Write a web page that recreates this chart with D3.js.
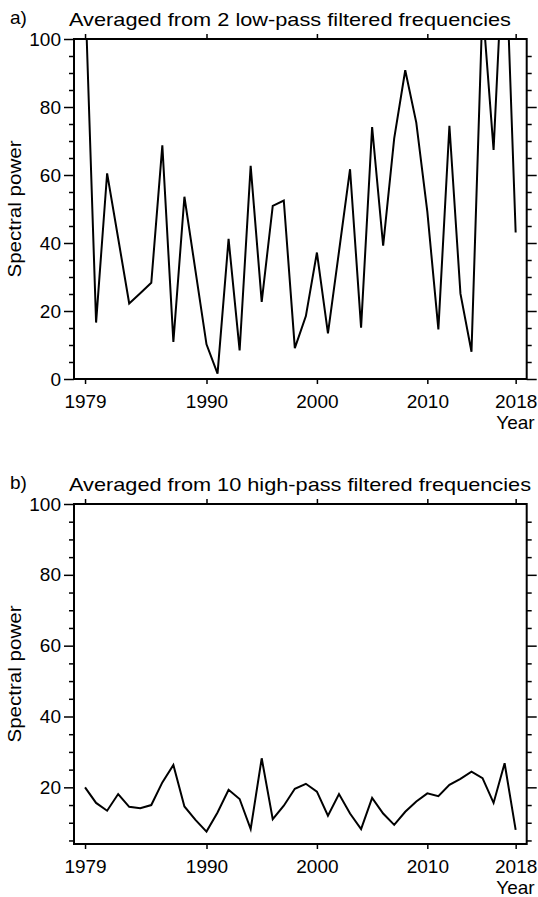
<!DOCTYPE html>
<head>
<title>Spectral power</title>
<meta charset="utf-8">
<style>
body { margin: 0; background: #fff; }
text { font-family: "Liberation Sans", Arial, sans-serif; fill: #000; }
.axis text { font-size: 19px; }
.axis line { stroke: #000; stroke-width: 1.5px; }
.axis path { display: none; }
.frame { fill: none; stroke: #000; stroke-width: 2px; }
.line { fill: none; stroke: #000; stroke-width: 2px; stroke-linejoin: miter; }
</style>
</head>
<body>
<svg width="538" height="897"></svg>
<script src="https://d3js.org/d3.v7.min.js"></script>
<script>
// years on the x axis
let years = d3.range(1979, 2019);
let yearTicks = [1979, 1990, 2000, 2010, 2018];

// a) averaged from 2 low-pass filtered frequencies
let lowPass = [115, 16.6, 60.5, 41.4, 22.2, 25.2, 28.3, 68.7, 10.9, 53.6,
               31.9, 10.2, 1.6, 41.2, 8.4, 62.7, 22.7, 50.9, 52.5, 9.1,
               18.5, 37.2, 13.4, 37.5, 61.7, 15.1, 74.1, 39.2, 70.8, 90.8,
               75.4, 49.2, 14.6, 74.5, 25.1, 8.0, 110, 67.4, 135, 43.1];

// b) averaged from 10 high-pass filtered frequencies
let highPass = [20.0, 15.6, 13.4, 18.1, 14.5, 14.1, 15.0, 21.4, 26.3, 14.6,
                10.8, 7.5, 12.9, 19.3, 16.7, 8.2, 28.2, 11.0, 14.8, 19.6,
                21.0, 18.8, 12.0, 18.1, 12.6, 8.2, 17.0, 12.6, 9.4, 13.1,
                16.0, 18.3, 17.5, 20.7, 22.4, 24.4, 22.6, 15.6, 26.8, 8.0];

let panels = [
  {tag: "a)", title: "Averaged from 2 low-pass filtered frequencies", titleLen: 442,
   values: lowPass, top: 39, yMin: 0, yTicks: [0, 20, 40, 60, 80, 100]},
  {tag: "b)", title: "Averaged from 10 high-pass filtered frequencies", titleLen: 462,
   values: highPass, top: 504, yMin: 4, yTicks: [20, 40, 60, 80, 100]}
];

let svg = d3.select("svg"),
    left = 74,
    width = 452.7,
    height = 340;

let x = d3.scaleLinear().domain([1978, 2019]).range([0, width]);

panels.forEach(function(p, i) {
  let g = svg.append("g").attr("transform", "translate(" + left + "," + p.top + ")");
  let y = d3.scaleLinear().domain([p.yMin, 100]).range([height, 0]);
  let minor = d3.range(5, 100, 5).filter(v => v >= p.yMin && v % 20 != 0);

  g.append("defs").append("clipPath").attr("id", "clip" + i)
    .append("rect").attr("width", width).attr("height", height);

  // left axis with labels, minor ticks
  g.append("g").attr("class", "axis")
    .call(d3.axisLeft(y).tickValues(p.yTicks).tickSize(10).tickPadding(3));
  g.append("g").attr("class", "axis")
    .call(d3.axisLeft(y).tickValues(minor).tickSize(5).tickFormat(""));
  // right axis, no labels
  g.append("g").attr("class", "axis").attr("transform", "translate(" + width + ",0)")
    .call(d3.axisRight(y).tickValues(p.yTicks.filter(v => v < 100)).tickSize(10).tickFormat(""));
  g.append("g").attr("class", "axis").attr("transform", "translate(" + width + ",0)")
    .call(d3.axisRight(y).tickValues(minor).tickSize(5).tickFormat(""));
  // bottom and top axes
  g.append("g").attr("class", "axis").attr("transform", "translate(0," + height + ")")
    .call(d3.axisBottom(x).tickValues(yearTicks).tickSize(5).tickPadding(11).tickFormat(d3.format("d")));
  g.append("g").attr("class", "axis")
    .call(d3.axisTop(x).tickValues(yearTicks).tickSize(5).tickFormat(""));

  g.append("g").attr("clip-path", "url(#clip" + i + ")")
    .append("path")
    .datum(p.values)
    .attr("class", "line")
    .attr("d", d3.line().x((d, j) => x(years[j])).y(d => y(d)));

  g.append("rect").attr("class", "frame").attr("width", width).attr("height", height);

  g.append("text").attr("x", -64).attr("y", -15).style("font-size", "19px").text(p.tag);
  g.append("text").attr("x", -5).attr("y", -13).style("font-size", "19px")
    .attr("textLength", p.titleLen).attr("lengthAdjust", "spacingAndGlyphs").text(p.title);
  g.append("text").attr("x", width + 8).attr("y", height + 50)
    .attr("text-anchor", "end").style("font-size", "19px").text("Year");
  g.append("text").attr("transform", "translate(-53," + (height / 2) + ") rotate(-90)")
    .attr("text-anchor", "middle").style("font-size", "19px")
    .attr("textLength", 137).attr("lengthAdjust", "spacingAndGlyphs").text("Spectral power");
});
</script>
</body>
